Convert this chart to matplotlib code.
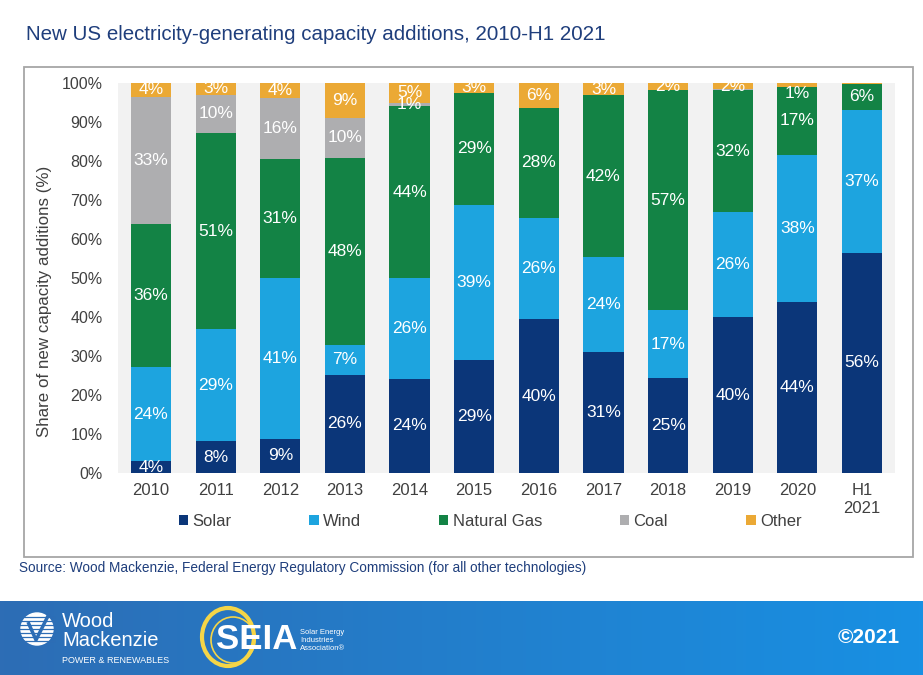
import matplotlib
matplotlib.use("Agg")
import matplotlib.pyplot as plt
import numpy as np
from matplotlib.patches import Patch, Rectangle, Circle, Ellipse

plt.rcParams['font.family'] = ['Liberation Sans', 'DejaVu Sans']

# data (share of new capacity, %)
years = ["2010", "2011", "2012", "2013", "2014", "2015", "2016",
         "2017", "2018", "2019", "2020", "H1\n2021"]
solar = [3.0, 8.1, 8.8, 25.2, 24.2, 29.1, 39.4, 31.0, 24.4, 40.0, 43.9, 56.5]
wind = [24.2, 28.7, 41.1, 7.6, 25.7, 39.6, 26.0, 24.3, 17.3, 26.8, 37.7, 36.7]
gas = [36.7, 50.5, 30.6, 48.0, 44.3, 28.8, 28.3, 41.6, 56.6, 31.4, 17.5, 6.5]
coal = [32.6, 9.7, 15.7, 10.3, 0.8, 0, 0, 0, 0, 0.2, 0, 0]
other = [3.5, 3.0, 3.8, 8.9, 5.0, 2.5, 6.3, 3.1, 1.7, 1.6, 0.9, 0.3]

# labels as printed on the chart
solar_lbl = [4, 8, 9, 26, 24, 29, 40, 31, 25, 40, 44, 56]
wind_lbl = [24, 29, 41, 7, 26, 39, 26, 24, 17, 26, 38, 37]
gas_lbl = [36, 51, 31, 48, 44, 29, 28, 42, 57, 32, 17, 6]
coal_lbl = [33, 10, 16, 10, 1, None, None, None, None, None, None, None]
other_lbl = [4, 3, 4, 9, 5, 3, 6, 3, 2, 2, 1, None]

names = ["Solar", "Wind", "Natural Gas", "Coal", "Other"]
colors = ["#0B3679", "#1DA4DF", "#138345", "#AEAEB0", "#EBA935"]
series = [solar, wind, gas, coal, other]
labels = [solar_lbl, wind_lbl, gas_lbl, coal_lbl, other_lbl]

navy = "#1F3E7C"
grey_txt = "#404040"

fig = plt.figure(figsize=(9.23, 6.75), dpi=100)
fig.patch.set_facecolor("white")

W, H = 923.0, 675.0
ax = fig.add_axes([118 / W, 1 - 473 / H, 777 / W, 390 / H])
ax.set_facecolor("#F2F2F2")

x = np.arange(len(years))
bottom = np.zeros(len(years))
for vals, lbls, col, name in zip(series, labels, colors, names):
    vals = np.array(vals)
    ax.bar(x, vals, 0.62, bottom=bottom, color=col, label=name, zorder=2)
    for i in range(len(years)):
        if lbls[i] is None:
            continue
        yc = bottom[i] + vals[i] / 2
        # 2020 "Other" label sits inside the gas segment in the original
        if name == "Other" and i == 10:
            yc = 97.2
        ax.text(x[i], yc, f"{lbls[i]}%", ha="center", va="center",
                color="white", fontsize=12.5, clip_on=True, zorder=3)
    bottom += vals

ax.set_xlim(-0.51, 11.51)
ax.set_ylim(0, 100)
ax.set_yticks(np.arange(0, 101, 10))
ax.set_yticklabels([f"{v}%" for v in range(0, 101, 10)])
ax.set_xticks(x)
ax.set_xticklabels(years, linespacing=1.3)
ax.tick_params(axis="y", length=0, pad=11, labelsize=11.5, labelcolor=grey_txt)
ax.tick_params(axis="x", length=0, pad=7, labelsize=12, labelcolor=grey_txt)
for sp in ax.spines.values():
    sp.set_visible(False)

fig.text(45 / W, 1 - 301 / H, "Share of new capacity additions (%)", rotation=90,
         ha="center", va="center", fontsize=12.2, color=grey_txt)

handles = [Patch(facecolor=c, edgecolor="none") for c in colors]
leg = fig.legend(handles, names, loc="center", bbox_to_anchor=(490 / W, 1 - 521 / H),
                 ncol=5, frameon=False, fontsize=12, handlelength=0.55,
                 handleheight=0.55, handletextpad=0.25, columnspacing=4.7)
for t in leg.get_texts():
    t.set_color(grey_txt)

# title, frame and source
fig.text(26 / W, 1 - 35 / H, "New US electricity-generating capacity additions, 2010-H1 2021",
         ha="left", va="center", fontsize=14.8, color=navy)
fig.patches.append(Rectangle((24 / W, 1 - 557 / H), 889 / W, 490 / H, transform=fig.transFigure,
                             fill=False, edgecolor="#A6A6A6", linewidth=1.3))
fig.text(19 / W, 1 - 568 / H,
         "Source: Wood Mackenzie, Federal Energy Regulatory Commission (for all other technologies)",
         ha="left", va="center", fontsize=9.8, color=navy)

# footer banner
bax = fig.add_axes([0, 0, 1, 74 / H])
grad = np.linspace(0, 1, 256).reshape(1, -1)
c0 = np.array([0x2D, 0x6D, 0xB5]) / 255
c1 = np.array([0x18, 0x90, 0xE3]) / 255
img = c0[None, None, :] * (1 - grad[..., None]) + c1[None, None, :] * grad[..., None]
bax.imshow(img, aspect="auto", extent=[0, W, H, 601])
bax.set_xlim(0, W)
bax.set_ylim(H, 601)
bax.axis("off")

# Wood Mackenzie mark
bax.add_patch(Circle((37, 629), 16, color="white"))
for yy in np.arange(617, 643, 4):
    bax.plot([20, 54], [yy, yy], color="#2D6DB5", lw=0.9)
bax.plot([28, 36, 49], [622, 640, 614], color="#2D6DB5", lw=2.5, solid_capstyle="butt")
bax.text(62, 631, "Wood\nMackenzie", color="white", fontsize=14.5, ha="left", va="center",
         linespacing=0.95)
bax.text(62, 661, "POWER & RENEWABLES", color="white", fontsize=6.5, ha="left", va="center")

# SEIA mark
bax.add_patch(Ellipse((228, 637), 52, 58, fill=False, edgecolor="#F5D547", lw=3))
bax.add_patch(Ellipse((233, 640), 44, 46, fill=False, edgecolor="#F5D547", lw=1.2))
bax.text(216, 640, "SEIA", color="white", fontsize=25, fontweight="bold", ha="left", va="center")
bax.text(300, 641, "Solar Energy\nIndustries\nAssociation\u00ae", color="white", fontsize=5.5,
         ha="left", va="center", linespacing=1.2)

bax.text(900, 638, "\u00a92021", color="white", fontsize=15, fontweight="bold",
         ha="right", va="center")

fig.savefig("out.png", dpi=100)
